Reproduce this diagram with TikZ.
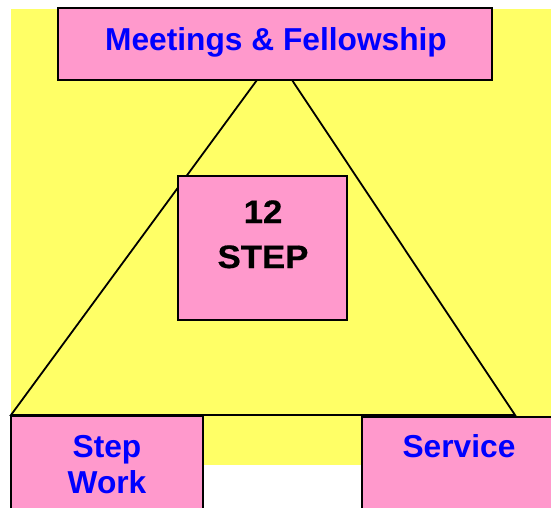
\documentclass[tikz,border=0pt]{standalone}
\usepackage{fontspec}
\setmainfont{Liberation Sans}
\newfontfamily\widefont[FakeStretch=1.07,FakeBold=0.6]{Liberation Sans Bold}
\definecolor{bgyellow}{HTML}{FFFF66}
\definecolor{boxpink}{HTML}{FF99CC}
\definecolor{txtblue}{HTML}{0000FF}
\begin{document}
\begin{tikzpicture}[x=1pt,y=-1pt,
  pinkbox/.style={draw=black,line width=2pt,fill=boxpink,rectangle,inner sep=0pt},
  bluelabel/.style={text=txtblue,font=\fontsize{31.7}{36}\selectfont\bfseries,anchor=base,inner sep=0pt},
  blacklabel/.style={text=black,font=\fontsize{32.5}{45}\selectfont\widefont,anchor=base,inner sep=0pt},
  edge/.style={draw=black,line width=1.8pt}]
\useasboundingbox (0,0) rectangle (551,507);
\clip (0,0) rectangle (551,507);
\fill[white] (0,0) rectangle (551,507);
\fill[bgyellow] (11,9) rectangle (551,465);
% triangle corners
\coordinate (tl) at (257,80);
\coordinate (tr) at (292,80);
\coordinate (bl) at (11,415);
\coordinate (br) at (515,415);
\draw[edge] (tl) -- (bl) -- (br) -- (tr);
% boxes
\node[pinkbox,minimum width=434pt,minimum height=72pt] (top) at (275,44) {};
\node[pinkbox,minimum width=169pt,minimum height=144pt] (mid) at (262.5,248) {};
\node[pinkbox,minimum width=192pt,minimum height=110pt] (left) at (107,471) {};
\node[pinkbox,minimum width=200pt,minimum height=110pt] (right) at (462,472) {};
% labels
\node[bluelabel] (toplbl) at (276,50) {Meetings \& Fellowship};
\node[blacklabel] (midlbl1) at (263,223) {12};
\node[blacklabel] (midlbl2) at (263,268) {STEP};
\node[bluelabel] (leftlbl1) at (107,457) {Step};
\node[bluelabel] (leftlbl2) at (107,493) {Work};
\node[bluelabel] (rightlbl) at (459,457) {Service};
\end{tikzpicture}
\end{document}
